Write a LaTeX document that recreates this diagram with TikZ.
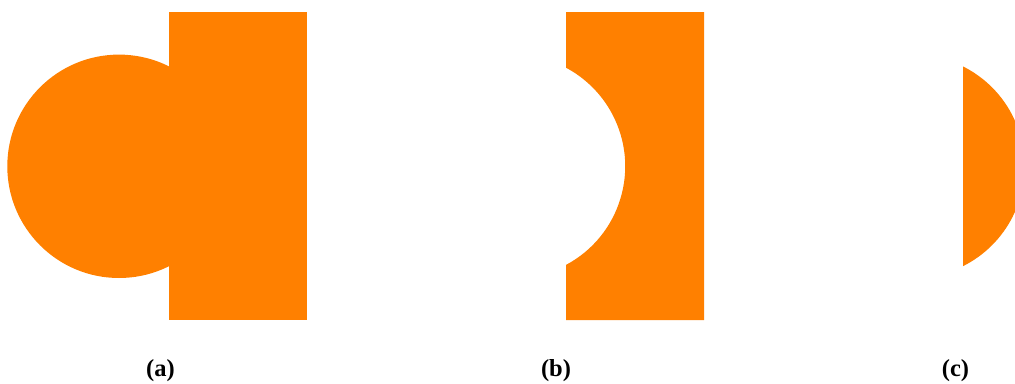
\documentclass[tikz,border=0pt]{standalone}
\usepackage{fontspec}
\setmainfont{Liberation Serif}
\definecolor{shapeorange}{RGB}{255,128,0}
\begin{document}
\begin{tikzpicture}[x=1pt,y=-1pt,
  shapefill/.style={fill=shapeorange},
  caption/.style={font=\fontsize{24.5}{28}\selectfont\bfseries, anchor=base, inner sep=0pt}]
\useasboundingbox (0,0) rectangle (1015,383);
% (a) union
\fill[shapefill] (119,166.3) circle (111.7);
\fill[shapefill] (169,12) rectangle (307,320);
% (b) difference: rectangle minus circle
\fill[shapefill] (566,12) -- (704,12) -- (704,320) -- (566,320) -- (566,264.9)
  arc[start angle=61.97, end angle=-61.97, radius=111.7] -- cycle;
% (c) intersection: circle segment inside rectangle
\fill[shapefill] (963,66.42) arc[start angle=-63.4, end angle=63.4, radius=111.7] -- cycle;
\node[caption] (la) at (160.5,376) {(a)};
\node[caption] (lb) at (556,376) {(b)};
\node[caption] (lc) at (955.5,376) {(c)};
\end{tikzpicture}
\end{document}
